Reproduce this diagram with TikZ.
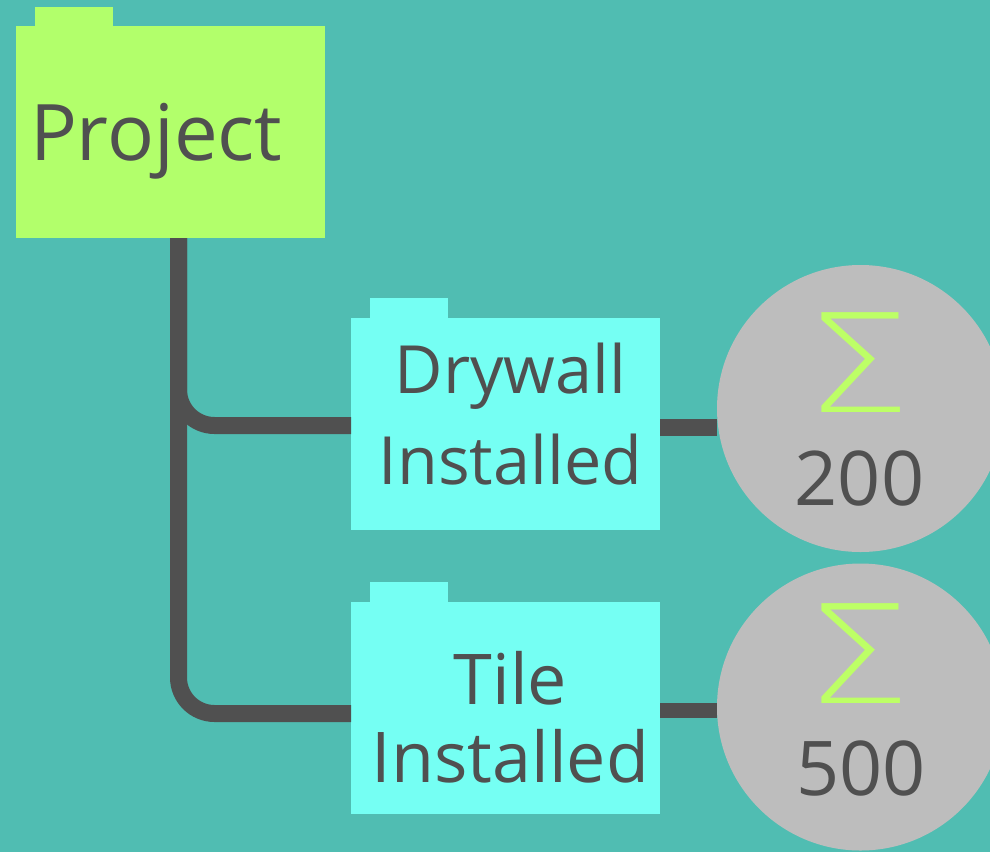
\documentclass[tikz,border=0pt]{standalone}
\usepackage{fontspec}
\setmainfont{Open Sans}
\newfontfamily\sigfont[FakeStretch=1.22]{DejaVu Sans ExtraLight}
\definecolor{bgc}{HTML}{50BDB2}
\definecolor{grn}{HTML}{B2FF6B}
\definecolor{cyn}{HTML}{75FFF3}
\definecolor{gry}{HTML}{BDBDBD}
\definecolor{drk}{HTML}{505050}
\definecolor{sig}{HTML}{BDFF66}
\tikzset{
  fbody/.style={rectangle,minimum width=309pt,minimum height=212pt,inner sep=0pt,outer sep=0pt},
  ftab/.style={rectangle,minimum width=78pt,minimum height=20pt,inner sep=0pt,outer sep=0pt},
  sumc/.style={circle,fill=gry,minimum size=287pt,inner sep=0pt,outer sep=0pt},
  conn/.style={draw=drk,line width=17pt,rounded corners=36pt},
  stub/.style={draw=drk,line width=17pt},
  lbl/.style={text=drk,inner sep=0pt,outer sep=0pt,align=center},
  sigl/.style={text=sig,inner sep=0pt,outer sep=0pt,anchor=base,font=\sigfont\fontsize{137}{137}\selectfont}
}
\begin{document}
\begin{tikzpicture}[x=1pt,y=-1pt]
\useasboundingbox (0,0) rectangle (990,852);
\fill[bgc] (0,0) rectangle (990,852);
\node[ftab,fill=grn] (ptab) at (74,16.5) {};
\node[fbody,fill=grn] (proj) at (170.5,132) {};
\node[ftab,fill=cyn] (dtab) at (409,308) {};
\node[fbody,fill=cyn] (dry) at (505.5,424) {};
\node[ftab,fill=cyn] (ttab) at (409,592) {};
\node[fbody,fill=cyn] (tile) at (505.5,708) {};
\node[sumc] (s1) at (860.5,408.5) {};
\node[sumc] (s2) at (860.5,707) {};
\coordinate (trunk) at (178.5,238);
\coordinate (ya) at (300,425.5);
\coordinate (yb) at (300,713.5);
\coordinate (yc) at (700,427);
\coordinate (yd) at (700,710.5);
\draw[conn] (trunk) |- (dry.west |- ya);
\draw[conn] (trunk) |- (tile.west |- yb);
\draw[stub] (dry.east |- yc) -- (s1.west |- yc);
\draw[stub,line width=15pt] (tile.east |- yd) -- (s2.west |- yd);
\node[lbl,anchor=base west,font=\fontsize{78}{78}\selectfont] (tp) at (30,160) {Project};
\node[lbl,font=\fontsize{66.5}{91}\selectfont] (td) at (510.5,414) {Drywall\\Installed};
\node[lbl,font=\fontsize{70}{78}\selectfont] (tt) at (510.5,717) {Tile\\Installed};
\node[sigl] (g1) at (858.5,412) {Σ};
\node[sigl] (g2) at (858.5,703) {Σ};
\node[lbl,anchor=base,font=\fontsize{75.5}{75.5}\selectfont] (n1) at (859.5,505) {200};
\node[lbl,anchor=base,font=\fontsize{75.5}{75.5}\selectfont] (n2) at (861,795) {500};
\end{tikzpicture}
\end{document}
